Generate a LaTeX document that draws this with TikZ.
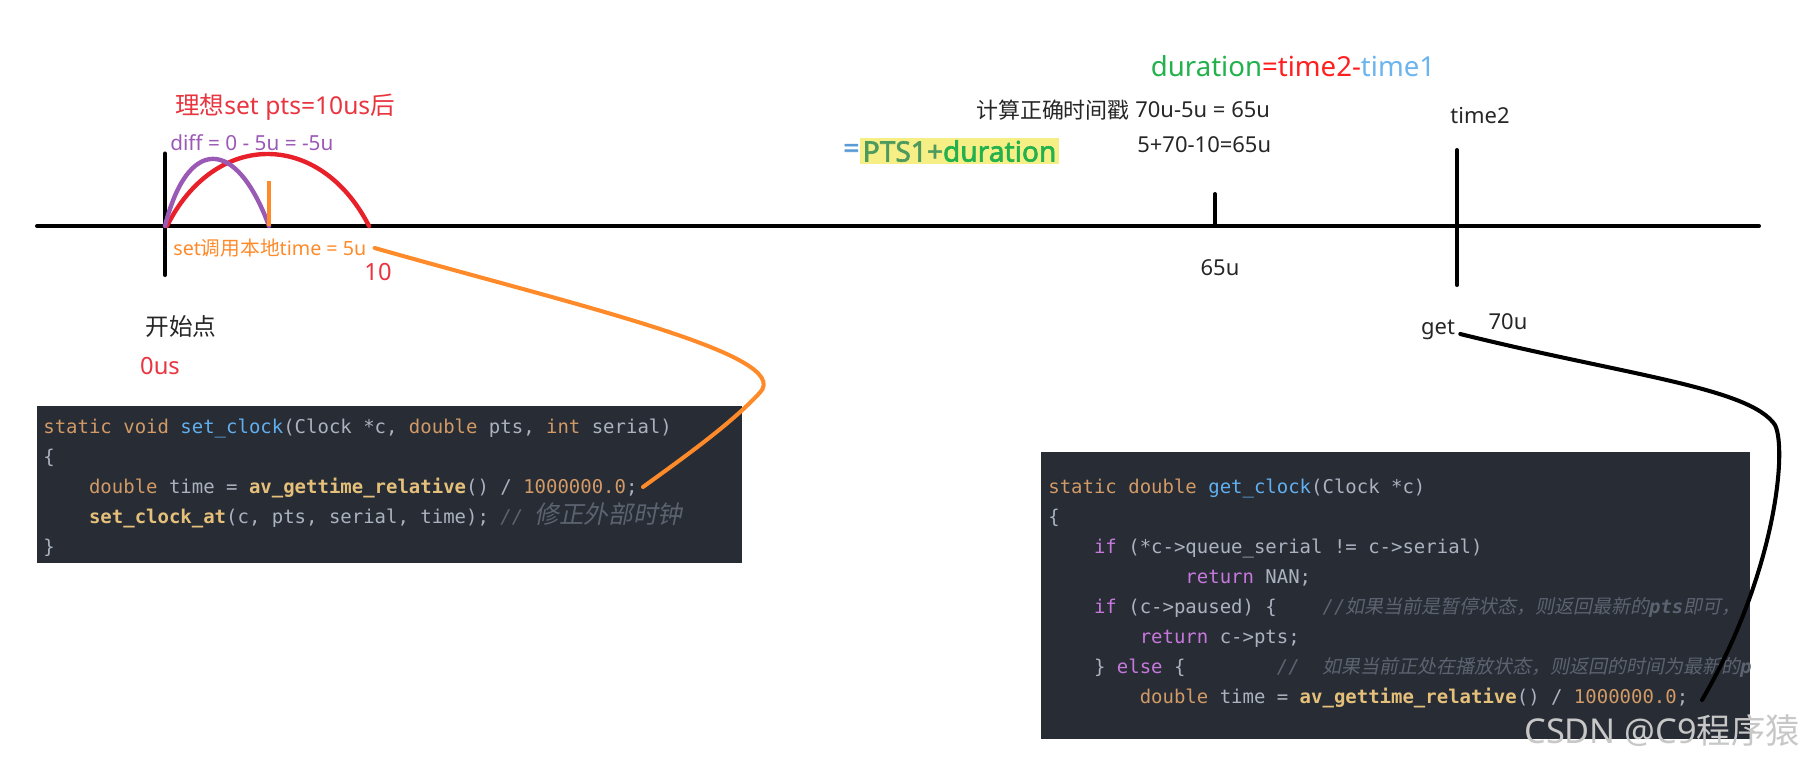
\documentclass[tikz,border=0pt]{standalone}
\usepackage{fontspec}
\setmainfont{Noto Sans}
\setmonofont{DejaVu Sans Mono}
\newfontfamily\cjk{Noto Sans CJK SC}
\newfontfamily\cjkit[FakeSlant=0.2]{Noto Sans CJK SC}
\newfontfamily\heavy[FakeBold=2.2]{Noto Sans}
\usepackage{xcolor}
\usetikzlibrary{positioning}

\definecolor{codebg}{HTML}{282C34}
\definecolor{cplain}{HTML}{ABB2BF}
\definecolor{ckw}{HTML}{D19A66}
\definecolor{cfn}{HTML}{61AFEF}
\definecolor{ccall}{HTML}{E5C07B}
\definecolor{ccom}{HTML}{5C6370}
\definecolor{cctl}{HTML}{C678DD}
\definecolor{idealred}{HTML}{E8353F}
\definecolor{diffpurple}{HTML}{9B59B6}
\definecolor{setorange}{HTML}{FF8A2A}
\definecolor{arcred}{HTML}{E8202A}
\definecolor{durgreen}{HTML}{22B14C}
\definecolor{t2red}{HTML}{FF1F1F}
\definecolor{t1blue}{HTML}{6CB4EE}
\definecolor{eqblue}{HTML}{5B9BD5}
\definecolor{ptsgreen}{HTML}{4E9A5E}
\definecolor{hlyellow}{HTML}{F6EF86}

\newcommand{\kwd}[1]{\textcolor{ckw}{#1}}
\newcommand{\fnname}[1]{\textcolor{cfn}{#1}}
\newcommand{\callname}[1]{\textcolor{ccall}{\bfseries #1}}
\newcommand{\ctrlkw}[1]{\textcolor{cctl}{#1}}
\newcommand{\cmt}[1]{\textcolor{ccom}{\itshape #1}}

\begin{document}
\begin{tikzpicture}[
    lbl/.style={inner sep=0pt, font=\fontsize{12.5}{15}\selectfont},
    biglbl/.style={inner sep=0pt, font=\fontsize{13.5}{16}\selectfont},
    smalllbl/.style={inner sep=0pt, font=\fontsize{11.2}{13}\selectfont},
    axis/.style={line width=2.3pt, line cap=round},
    arcline/.style={line width=2.5pt, line cap=round},
    link/.style={line width=2.3pt, line cap=round},
    codebox/.style={rectangle, fill=codebg, inner sep=0pt, anchor=north west},
    code/.style={anchor=north west, align=left, inner sep=0pt, text=cplain, font=\ttfamily\fontsize{10.8}{17.07}\selectfont},
]
\useasboundingbox (0,0) rectangle (36.2,-15.32);

% ===== Timeline =====
\coordinate (tstart) at (0.74,-4.52);
\coordinate (tend) at (35.18,-4.52);
\coordinate (t0) at (3.30,-4.52);
\coordinate (t65) at (24.30,-4.52);
\coordinate (t70) at (29.14,-4.52);
\draw[axis] (tstart) -- (tend);
\draw[axis] (t0) ++(0,1.45) -- ++(0,-2.43);
\draw[axis] (t65) ++(0,0.64) -- (t65);
\draw[axis] (t70) ++(0,1.52) -- ++(0,-2.70);

% ===== Arcs near the start =====
\draw[arcline, arcred] (3.34,-4.52) .. controls (4.3,-2.6) and (6.4,-2.6) .. (7.38,-4.52);
\draw[arcline, diffpurple] (t0) .. controls (3.75,-2.73) and (4.72,-2.73) .. (5.38,-4.52);
\draw[line width=1.8pt, setorange] (5.38,-3.62) -- (5.38,-4.52);

% ===== Labels =====
\node[biglbl, text=idealred, font=\fontsize{14}{16}\selectfont] (ideal) at (5.70,-2.14) {{\cjk 理想}set pts=10us{\cjk 后}};
\node[smalllbl, text=diffpurple, anchor=west, font=\fontsize{11.8}{13}\selectfont] (diff) at (3.40,-2.86) {diff = 0 - 5u = -5u};
\node[smalllbl, text=setorange, anchor=west] (setlbl) at (3.46,-4.96) {set{\cjk 调用本地}time = 5u};
\node[biglbl, text=idealred] (ten) at (7.56,-5.44) {10};
\node[biglbl, text=black!85] (startpt) at (3.62,-6.54) {\cjk 开始点};
\node[biglbl, text=idealred] (zero) at (3.20,-7.32) {0us};

\node[inner sep=0pt, font=\fontsize{15.7}{18}\selectfont] (dur) at (25.86,-1.32)
    {\textcolor{durgreen}{duration}\textcolor{t2red}{=time2-}\textcolor{t1blue}{time1}};
\node[lbl, text=black!85] (calc) at (21.06,-2.20) {\cjk 计算正确时间戳};
\node[lbl, text=black!85, anchor=west] (calc1) at (22.70,-2.20) {70u-5u = 65u};
\node[lbl, text=black!85, anchor=west] (calc2) at (22.74,-2.90) {5+70-10=65u};
\node[inner sep=0pt, anchor=west, text=eqblue, font=\heavy\fontsize{16}{18}\selectfont] (eqsign) at (16.86,-3.02) {=};
\node[right=0pt of eqsign, fill=hlyellow, inner sep=1.5pt, font=\heavy\fontsize{16}{18}\selectfont]
    (ptsdur) {\textcolor{ptsgreen}{PTS1+}\textcolor{durgreen}{duration}};

\node[lbl, text=black!85] (time2) at (29.60,-2.32) {time2};
\node[lbl, text=black!85] (l65) at (24.40,-5.36) {65u};
\node[lbl, text=black!85] (get) at (28.76,-6.60) {get};
\node[lbl, text=black!85] (l70) at (30.16,-6.44) {70u};

% ===== Code: set_clock =====
\node[codebox, minimum width=14.1cm, minimum height=3.14cm] (setbox) at (0.74,-8.12) {};
\node[code] (setcode) at (0.86,-8.37) {%
\kwd{static void} \fnname{set\_clock}(Clock *c, \kwd{double} pts, \kwd{int} serial)\\
\{\\
~~~~\kwd{double} time = \callname{av\_gettime\_relative}() / \kwd{1000000.0};\\
~~~~\callname{set\_clock\_at}(c, pts, serial, time); \cmt{// {\cjkit\fontsize{14}{17}\selectfont 修正外部时钟}}\\
\}};
\coordinate (setend) at (12.86,-9.74);

% ===== Code: get_clock =====
\node[codebox, minimum width=14.18cm, minimum height=5.74cm] (getbox) at (20.82,-9.04) {};
\begin{scope}
\clip (getbox.south west) rectangle (getbox.north east);
\node[code] (getcode) at (20.96,-9.58) {%
\kwd{static double} \fnname{get\_clock}(Clock *c)\\
\{\\
~~~~\ctrlkw{if} (*c->queue\_serial != c->serial)\\
~~~~~~~~~~~~\ctrlkw{return} NAN;\\
~~~~\ctrlkw{if} (c->paused) \{~~~~\cmt{//{\cjkit 如果当前是暂停状态，则返回最新的}{\bfseries pts}{\cjkit 即可，}}\\
~~~~~~~~\ctrlkw{return} c->pts;\\
~~~~\} \ctrlkw{else} \{~~~~~~~~\cmt{//~~{\cjkit 如果当前正处在播放状态，则返回的时间为最新的}{\bfseries pts}}\\
~~~~~~~~\kwd{double} time = \callname{av\_gettime\_relative}() / \kwd{1000000.0};};
\end{scope}
\coordinate (getend) at (34.04,-14.00);

% ===== Links =====
\draw[link, setorange] ([xshift=0.16cm]setlbl.east) .. controls (11.5,-6.1) and (15.9,-7.1) .. (15.2,-7.85)
    .. controls (14.6,-8.5) and (13.6,-9.2) .. (setend);
\draw[link, black] ([shift={(0.1,-0.08)}]get.east) .. controls (32.5,-7.5) and (35.0,-7.75) .. (35.5,-8.5)
    .. controls (35.75,-9.0) and (35.5,-11.5) .. (getend);

% ===== Watermark =====
\node[inner sep=0pt, text=black!22, font=\fontsize{19.5}{22}\selectfont] (mark) at (33.24,-14.62) {CSDN @C9{\cjk 程序猿}};

\end{tikzpicture}
\end{document}
